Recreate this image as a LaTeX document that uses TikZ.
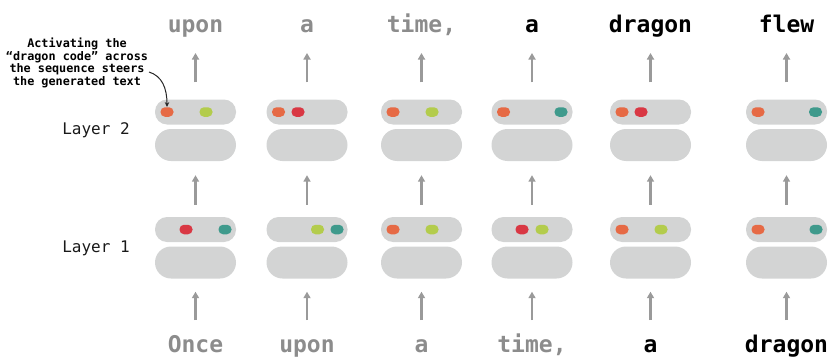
\documentclass[tikz,border=0pt]{standalone}
\usepackage{fontspec}
\usetikzlibrary{arrows.meta}
\newfontfamily\monof{DejaVu Sans Mono}
\definecolor{pillgray}{HTML}{D3D4D4}
\definecolor{arrgray}{HTML}{9A9A9A}
\definecolor{wordgray}{HTML}{8C8C8C}
\definecolor{dotorange}{HTML}{E66A45}
\definecolor{dotgreen}{HTML}{B3CC4C}
\definecolor{dotred}{HTML}{D93844}
\definecolor{dotteal}{HTML}{3F9A8C}
\tikzset{
  thinpill/.style={fill=pillgray, draw=none, rounded corners=12pt,
    minimum width=81pt, minimum height=25pt, inner sep=0pt},
  bigpill/.style={fill=pillgray, draw=none, rounded corners=16pt,
    minimum width=81pt, minimum height=32pt, inner sep=0pt},
  dot/.style={draw=none, rounded corners=4.5pt, minimum width=13pt,
    minimum height=9.5pt, inner sep=0pt},
  flow/.style={draw=arrgray, line width=2.6pt,
    -{Triangle[length=6.5pt,width=7pt]}},
  word/.style={font=\monof\bfseries\fontsize{23}{26}\selectfont, anchor=base,
    inner sep=0pt},
  oldword/.style={word, text=wordgray},
  newword/.style={word, text=black},
  layerlabel/.style={font=\monof\fontsize{16}{19}\selectfont, text=black!90},
  note/.style={font=\monof\bfseries\fontsize{11.8}{12.8}\selectfont, align=center}
}
\begin{document}
\begin{tikzpicture}[x=1pt, y=-1pt]
\useasboundingbox (0,0) rectangle (831,359);

% column x positions
\def\cA{195.5}\def\cB{307}\def\cC{421.5}\def\cD{532}\def\cE{650.5}\def\cF{786.5}

% pills for both layers in every column
\foreach \i/\x in {1/\cA,2/\cB,3/\cC,4/\cD,5/\cE,6/\cF}{
  \node[thinpill] (ls\i) at (\x,112) {};
  \node[bigpill]  (lb\i) at (\x,145) {};
  \node[thinpill] (ks\i) at (\x,229.5) {};
  \node[bigpill]  (kb\i) at (\x,262.5) {};
}

% active features in layer 2 (offsets from the pill centre)
\node[dot, fill=dotorange] (d21a) at ([xshift=-28.5pt]ls1.center) {};
\node[dot, fill=dotgreen]  (d21b) at ([xshift=10.5pt]ls1.center) {};
\node[dot, fill=dotorange] (d22a) at ([xshift=-28.5pt]ls2.center) {};
\node[dot, fill=dotred]    (d22b) at ([xshift=-9pt]ls2.center) {};
\node[dot, fill=dotorange] (d23a) at ([xshift=-28.5pt]ls3.center) {};
\node[dot, fill=dotgreen]  (d23b) at ([xshift=10.5pt]ls3.center) {};
\node[dot, fill=dotorange] (d24a) at ([xshift=-28.5pt]ls4.center) {};
\node[dot, fill=dotteal]   (d24b) at ([xshift=29pt]ls4.center) {};
\node[dot, fill=dotorange] (d25a) at ([xshift=-28.5pt]ls5.center) {};
\node[dot, fill=dotred]    (d25b) at ([xshift=-9.5pt]ls5.center) {};
\node[dot, fill=dotorange] (d26a) at ([xshift=-28.5pt]ls6.center) {};
\node[dot, fill=dotteal]   (d26b) at ([xshift=29pt]ls6.center) {};

% active features in layer 1
\node[dot, fill=dotred]    (d11a) at ([xshift=-9.5pt]ks1.center) {};
\node[dot, fill=dotteal]   (d11b) at ([xshift=29.5pt]ks1.center) {};
\node[dot, fill=dotgreen]  (d12a) at ([xshift=10.5pt]ks2.center) {};
\node[dot, fill=dotteal]   (d12b) at ([xshift=30pt]ks2.center) {};
\node[dot, fill=dotorange] (d13a) at ([xshift=-28.5pt]ks3.center) {};
\node[dot, fill=dotgreen]  (d13b) at ([xshift=10.5pt]ks3.center) {};
\node[dot, fill=dotred]    (d14a) at ([xshift=-10pt]ks4.center) {};
\node[dot, fill=dotgreen]  (d14b) at ([xshift=10pt]ks4.center) {};
\node[dot, fill=dotorange] (d15a) at ([xshift=-28.5pt]ks5.center) {};
\node[dot, fill=dotgreen]  (d15b) at ([xshift=10.5pt]ks5.center) {};
\node[dot, fill=dotorange] (d16a) at ([xshift=-28.5pt]ks6.center) {};
\node[dot, fill=dotteal]   (d16b) at ([xshift=29.5pt]ks6.center) {};

% output tokens
\node[oldword] (t1) at (\cA,32) {upon};
\node[oldword] (t2) at (\cB,32) {a};
\node[oldword] (t3) at (\cC,32) {time,};
\node[newword] (t4) at (\cD,32) {a};
\node[newword] (t5) at (\cE,32) {dragon};
\node[newword] (t6) at (\cF,32) {flew};

% input tokens
\node[oldword] (b1) at (\cA,352) {Once};
\node[oldword] (b2) at (\cB,352) {upon};
\node[oldword] (b3) at (\cC,352) {a};
\node[oldword] (b4) at (\cD,352) {time,};
\node[newword] (b5) at (\cE,352) {a};
\node[newword] (b6) at (\cF,352) {dragon};

% upward flow through the layers
\foreach \i in {1,...,6}{
  \draw[flow, shorten <=32pt, shorten >=13pt] (b\i.base) -- (kb\i.south);
  \draw[flow, shorten <=12pt, shorten >=14pt] (ks\i.north) -- (lb\i.south);
  \draw[flow, shorten <=17pt, shorten >=21pt] (ls\i.north) -- (t\i.base);
}

% layer labels
\node[layerlabel] (lab2) at (96,130) {Layer 2};
\node[layerlabel] (lab1) at (96,248) {Layer 1};

% annotation
\node[note] (note) at (77,63) {Activating the\\“dragon code” across\\the sequence steers\\the generated text};
\coordinate (noteend) at (149,72);
\draw[black!85, line width=1pt, -{Stealth[length=5pt,width=4.5pt]}]
  (noteend) .. controls (162,76) and (167,88) .. (d21a.north);
\end{tikzpicture}
\end{document}
